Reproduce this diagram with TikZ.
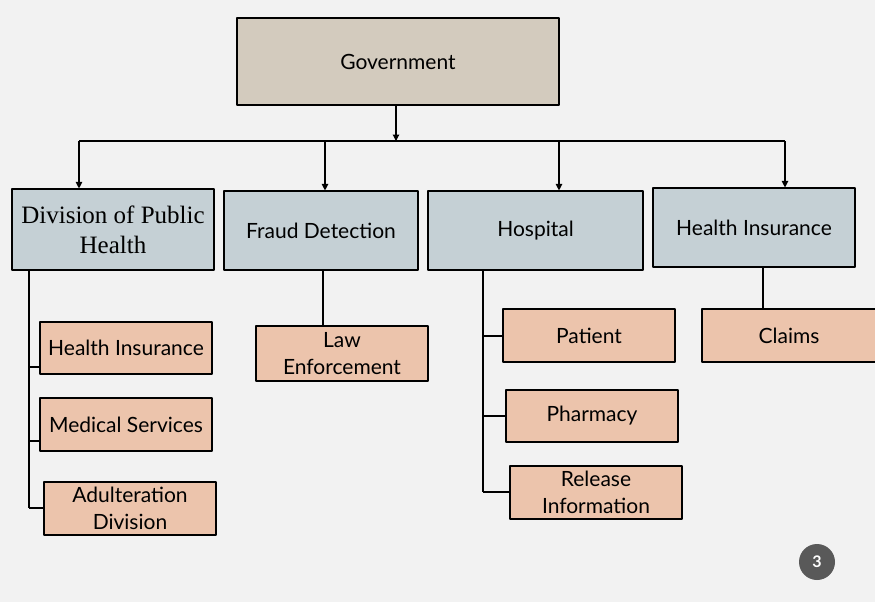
\documentclass[tikz,border=0pt]{standalone}
\usepackage{fontspec}
\setmainfont{Lato}
\newfontfamily\timesfont{Liberation Serif}
\usetikzlibrary{arrows.meta}
\definecolor{bgcol}{HTML}{F2F2F2}
\definecolor{govcol}{HTML}{D3CBBE}
\definecolor{unitcol}{HTML}{C5D0D5}
\definecolor{subcol}{HTML}{ECC4AC}
\definecolor{pagecol}{HTML}{595959}
\begin{document}
\begin{tikzpicture}[x=1pt,y=-1pt,line join=round,>={Triangle[length=6.5pt,width=6.5pt]},line width=1.1pt]
	\tikzset{box/.style={draw=black,line width=1.1pt,align=center,inner sep=0pt,font=\fontsize{21}{27}\selectfont},
		unit/.style={box,fill=unitcol,minimum height=79pt},
		sub/.style={box,fill=subcol,minimum width=172pt,minimum height=53pt}}
	\fill[bgcol] (0,0) rectangle (875,602);
	\useasboundingbox (0,0) rectangle (875,602);
	% top
	\node[box,fill=govcol,minimum width=322pt,minimum height=87pt] (gov) at (398,61.5) {Government};
	% units
	\node[unit,minimum width=202pt,minimum height=81pt,font=\timesfont\fontsize{25}{30}\selectfont] (dph) at (113,229.5) {Division of Public\\Health};
	\node[unit,minimum width=194pt] (fraud) at (321,230.5) {Fraud Detection};
	\node[unit,minimum width=215pt] (hosp) at (535.5,230.5) {Hospital};
	\node[unit,minimum width=202pt] (hins) at (754,227.5) {Health Insurance};
	% sub units
	\node[sub,minimum height=52pt] (dhi) at (126,348) {Health Insurance};
	\node[sub] (dms) at (126,424.5) {Medical Services};
	\node[sub] (dad) at (130,508.5) {Adulteration\\Division};
	\node[sub,minimum height=55pt] (law) at (342,353.5) {Law\\Enforcement};
	\node[sub] (pat) at (589,335.5) {Patient};
	\node[sub,minimum height=52pt] (pha) at (592,416) {Pharmacy};
	\node[sub] (rel) at (596,492.5) {Release\\Information};
	\node[sub,minimum width=174pt] (clm) at (789,335.5) {Claims};
	% bus
	\coordinate (bus) at (396,141);
	\draw[->] (gov.south -| bus) -- (bus);
	\draw (79,141) -- (785,141);
	\foreach \n/\x in {dph/79,fraud/325,hosp/559,hins/785}
		\draw[->] (\x,141) -- (\x,0 |- \n.north);
	% branches
	\draw (dph.south -| 29,0) -- (29,508);
	\draw (dph.south -| 29,0) -- ++(25,0);
	\foreach \n/\y in {dhi/367,dms/441,dad/508}
		\draw (29,\y) -- (\n.west |- 0,\y);
	\draw (fraud.south -| 323,0) -- (323,0 |- law.north);
	\draw (hosp.south -| 483,0) -- (483,492);
	\foreach \n/\y in {pat/336,pha/416,rel/492}
		\draw (483,\y) -- (\n.west |- 0,\y);
	\draw (hins.south -| 763,0) -- (763,0 |- clm.north);
	% page number
	\node[circle,fill=pagecol,minimum size=36pt,inner sep=0pt,text=white,font=\bfseries\fontsize{16}{18}\selectfont] (pg) at (817,562) {3};
\end{tikzpicture}
\end{document}
